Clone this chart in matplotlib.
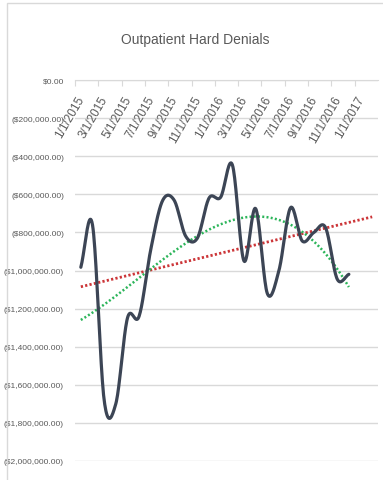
import numpy as np
import matplotlib.pyplot as plt
from matplotlib.patches import Rectangle
from matplotlib.ticker import FuncFormatter
from matplotlib.transforms import offset_copy

# monthly hard denials, Jan 2015 - Dec 2016
denials = [-983000, -760000, -1680000, -1700000, -1250000, -1240000,
           -890000, -635000, -630000, -820000, -830000, -620000,
           -615000, -445000, -950000, -675000, -1120000, -1000000,
           -670000, -845000, -800000, -775000, -1045000, -1020000]
tick_labels = ['1/1/2015', '3/1/2015', '5/1/2015', '7/1/2015', '9/1/2015',
               '11/1/2015', '1/1/2016', '3/1/2016', '5/1/2016', '7/1/2016',
               '9/1/2016', '11/1/2016', '1/1/2017']

font = ['Liberation Sans', 'DejaVu Sans']
grey = '#595959'


def smooth(x, y, n=20):
    # cardinal spline through the points, like a "smoothed line" in a spreadsheet
    x = np.asarray(x, float)
    y = np.asarray(y, float)
    m = np.empty_like(y)
    m[1:-1] = (y[2:] - y[:-2]) / 2
    m[0] = y[1] - y[0]
    m[-1] = y[-1] - y[-2]
    t = np.linspace(0, 1, n, endpoint=False)
    h00 = 2 * t**3 - 3 * t**2 + 1
    h10 = t**3 - 2 * t**2 + t
    h01 = -2 * t**3 + 3 * t**2
    h11 = t**3 - t**2
    xs, ys = [], []
    for i in range(len(y) - 1):
        xs.append(x[i] + t * (x[i + 1] - x[i]))
        ys.append(h00 * y[i] + h10 * m[i] + h01 * y[i + 1] + h11 * m[i + 1])
    xs.append([x[-1]])
    ys.append([y[-1]])
    return np.concatenate(xs), np.concatenate(ys)


x = np.arange(len(denials)) + 0.5
y = np.array(denials, float)

fig = plt.figure(figsize=(3.83, 4.81), dpi=100)
ax = fig.add_axes([75 / 383, 1 - 462 / 481, 303 / 383, 381 / 481])

# chart border (cut off on the right and bottom)
fig.patches.append(Rectangle((7 / 383, -0.1), 1.2, 1.1 - 4 / 481,
                             transform=fig.transFigure, fill=False,
                             edgecolor='#d9d9d9', lw=1))

# trendlines: linear with 2 periods forecast, and a 3rd order polynomial
lin = np.polyfit(x, y, 1)
xl = np.linspace(x[0], x[-1] + 2, 50)
ax.plot(xl, np.polyval(lin, xl), color='#cc3538', lw=2, ls=(0, (0.8, 0.8)), zorder=3)
poly = np.polyfit(x, y, 3)
xq = np.linspace(x[0], x[-1], 100)
ax.plot(xq, np.polyval(poly, xq), color='#2cb55a', lw=1.8, ls=(0, (0.8, 0.9)), zorder=3)

# the data line
xs, ys = smooth(x, y)
ax.plot(xs, ys, color='#3c4555', lw=2.3, solid_capstyle='round', zorder=4)

ax.set_xlim(0, 26)
ax.set_ylim(-2000000, 0)
ax.set_yticks(np.arange(-2000000, 1, 200000))
ax.yaxis.set_major_formatter(FuncFormatter(
    lambda v, p: '$0.00' if v == 0 else '(${:,.2f})'.format(-v)))
ax.tick_params(axis='y', length=0, pad=8, labelsize=6.0, labelcolor=grey)
for lab in ax.get_yticklabels():
    lab.set_family(font)
ax.grid(axis='y', color='#d9d9d9', lw=1)
ax.set_axisbelow(True)
for s in ['left', 'right', 'bottom']:
    ax.spines[s].set_visible(False)
ax.spines['top'].set_color('#d9d9d9')

# date axis sits on the $0 line
ax.xaxis.tick_top()
ax.set_xticks(np.arange(0, 25, 2))
ax.tick_params(axis='x', direction='in', length=4, color='#d9d9d9', labeltop=False)
for pos, lab in zip(np.arange(0, 25, 2), tick_labels):
    tr = offset_copy(ax.transData, fig=fig, x=7, y=-17, units='dots')
    ax.text(pos, 0, lab, transform=tr, rotation=60, rotation_mode='anchor',
            ha='right', va='center', fontsize=8.5, color=grey, family=font)

fig.text(0.51, 1 - 40 / 481, 'Outpatient Hard Denials', ha='center', va='center',
         fontsize=10, color=grey, family=font)

fig.savefig('out.png', dpi=100)
